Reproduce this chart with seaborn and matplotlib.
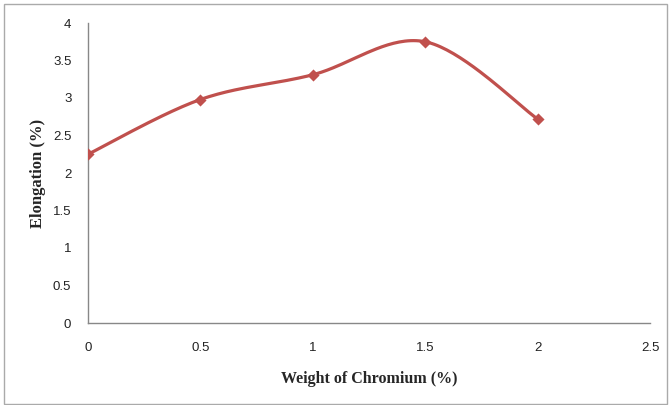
import numpy as np
import pandas as pd
import matplotlib
matplotlib.use("Agg")
import matplotlib.pyplot as plt
import seaborn as sns
from matplotlib.patches import Rectangle

chromium = [0, 0.5, 1, 1.5, 2]
elongation = [2.25, 2.98, 3.31, 3.75, 2.72]
x_ticks = [0, 0.5, 1, 1.5, 2, 2.5]
y_ticks = [0, 0.5, 1, 1.5, 2, 2.5, 3, 3.5, 4]
x_label = "Weight of Chromium (%)"
y_label = "Elongation (%)"

color = "#C0504D"

def smooth(xs, ys, n=40):
    # Excel-style smoothed line (Catmull-Rom Bezier) through the data points
    xs = np.asarray(xs, float); ys = np.asarray(ys, float)
    P = np.column_stack([xs, ys])
    out = []
    for i in range(len(P) - 1):
        p0 = P[i - 1] if i > 0 else P[i]
        p1, p2 = P[i], P[i + 1]
        p3 = P[i + 2] if i + 2 < len(P) else P[i + 1]
        c1 = p1 + (p2 - p0) / 6
        c2 = p2 - (p3 - p1) / 6
        t = np.linspace(0, 1, n)[:, None]
        seg = (1 - t) ** 3 * p1 + 3 * (1 - t) ** 2 * t * c1 + 3 * (1 - t) * t ** 2 * c2 + t ** 3 * p2
        out.append(seg if i == 0 else seg[1:])
    s = np.vstack(out)
    return s[:, 0], s[:, 1]

sns.set_style("white")
fig = plt.figure(figsize=(6.71, 4.05), dpi=100)
ax = fig.add_axes([88 / 671, 82 / 405, 562 / 671, 300 / 405])

sx, sy = smooth(chromium, elongation)
curve = pd.DataFrame({"x": sx, "y": sy})
pts = pd.DataFrame({"x": chromium, "y": elongation})
sns.lineplot(data=curve, x="x", y="y", ax=ax, color=color, linewidth=2.3, sort=False, estimator=None)
sns.scatterplot(data=pts, x="x", y="y", ax=ax, color=color, marker="D", s=38, edgecolor=color, linewidth=0, zorder=5)

ax.set_xlim(0, 2.5)
ax.set_ylim(0, 4)
ax.set_xticks(x_ticks)
ax.set_yticks(y_ticks)
ax.set_xticklabels([f"{v:g}" for v in x_ticks], fontsize=9.5, family="Liberation Sans", color="#222222")
ax.set_yticklabels([f"{v:g}" for v in y_ticks], fontsize=9.5, family="Liberation Sans", color="#222222")
ax.tick_params(axis="both", length=0)
ax.tick_params(axis="x", pad=14)
ax.tick_params(axis="y", pad=12)
for sp in ["top", "right"]:
    ax.spines[sp].set_visible(False)
for sp in ["left", "bottom"]:
    ax.spines[sp].set_color("#888888")
    ax.spines[sp].set_linewidth(1.0)

ax.set_xlabel(x_label, fontsize=11.5, fontweight="bold", family="Liberation Serif", labelpad=12)
ax.set_ylabel(y_label, fontsize=12, fontweight="bold", family="Liberation Serif", labelpad=5)

fig.patches.append(Rectangle((4 / 671, 1 / 405), 663 / 671, 400 / 405, transform=fig.transFigure,
                             fill=False, edgecolor="#AAAAAA", linewidth=1.0))

fig.savefig("out.png", dpi=100)
